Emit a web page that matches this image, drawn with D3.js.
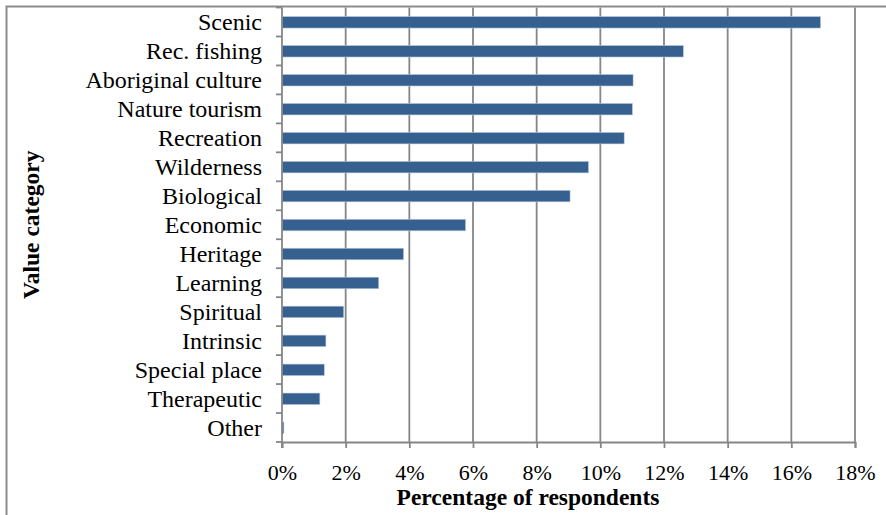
<!DOCTYPE html>
<html><head><meta charset="utf-8">
<script src="https://cdn.jsdelivr.net/npm/d3@7"></script>
<style>
html,body{margin:0;padding:0;background:#fff;}
svg{display:block;}
text{font-family:"Liberation Serif","Times New Roman",serif;fill:#000;}
</style></head>
<body>
<svg id="chart" width="886" height="515"></svg>
<script>
const categories = ["Scenic","Rec. fishing","Aboriginal culture","Nature tourism","Recreation","Wilderness","Biological","Economic","Heritage","Learning","Spiritual","Intrinsic","Special place","Therapeutic","Other"];
const values = [16.92,12.61,11.03,11.01,10.75,9.63,9.05,5.77,3.82,3.04,1.94,1.38,1.33,1.19,0.06];
const xTicks = [0,2,4,6,8,10,12,14,16,18];
const xTitle = "Percentage of respondents";
const yTitle = "Value category";

const svg = d3.select("#chart");
const L = 282, R = 855, T = 7.5, B = 442;

// outer border (cropped chart area)
svg.append("path").attr("d","M6.5,520 V6.5 H890")
  .attr("fill","none").attr("stroke","#8c8c8c").attr("stroke-width",2);

const x = d3.scaleLinear().domain([0,18]).range([L,R]);
const y = d3.scaleBand().domain(categories).range([T,B]).padding(0);
const bw = y.bandwidth();

// gridlines
svg.append("g").selectAll("line").data(xTicks.filter(d=>d>0)).join("line")
  .attr("x1",d=>x(d)).attr("x2",d=>x(d)).attr("y1",T).attr("y2",B)
  .attr("stroke","#868686").attr("stroke-width",1.8);

// bars
svg.append("g").selectAll("rect").data(categories).join("rect")
  .attr("x",x(0)).attr("y",d=>y(d)+bw*0.31)
  .attr("width",(d,i)=>Math.max(0,x(values[i])-x(0)))
  .attr("height",bw*0.4)
  .attr("fill","#36608f").attr("stroke","#c3d0e2").attr("stroke-width",0.6);

// x axis
const xAxis = svg.append("g").attr("transform",`translate(0,${B})`)
  .call(d3.axisBottom(x).tickValues(xTicks).tickFormat(d=>d+"%").tickSize(6).tickPadding(16));
xAxis.select(".domain").attr("stroke","#868686").attr("stroke-width",1.8);
xAxis.selectAll(".tick line").attr("stroke","#868686").attr("stroke-width",1.8);
xAxis.selectAll(".tick text").attr("font-size",22).attr("font-family","Liberation Serif").attr("fill","#000");

// y axis: ticks at band boundaries
const yb = svg.append("g");
yb.append("line").attr("x1",L).attr("x2",L).attr("y1",T).attr("y2",B+6)
  .attr("stroke","#868686").attr("stroke-width",1.8);
const bounds = categories.map(c=>y(c)).concat([B]);
yb.selectAll("line.tk").data(bounds).join("line").attr("class","tk")
  .attr("x1",L-6).attr("x2",L).attr("y1",d=>d).attr("y2",d=>d)
  .attr("stroke","#868686").attr("stroke-width",1.8);
yb.selectAll("text").data(categories).join("text")
  .attr("x",262).attr("y",d=>y(d)+bw/2+8.5)
  .attr("text-anchor","end").attr("font-size",24).text(d=>d);

// titles
svg.append("text").attr("x",528).attr("y",505).attr("text-anchor","middle")
  .attr("font-size",23.5).attr("font-weight","bold").text(xTitle);
svg.append("text").attr("transform",`translate(39,${(T+B)/2}) rotate(-90)`)
  .attr("text-anchor","middle").attr("font-size",23.5).attr("font-weight","bold").text(yTitle);
</script>
</body></html>
